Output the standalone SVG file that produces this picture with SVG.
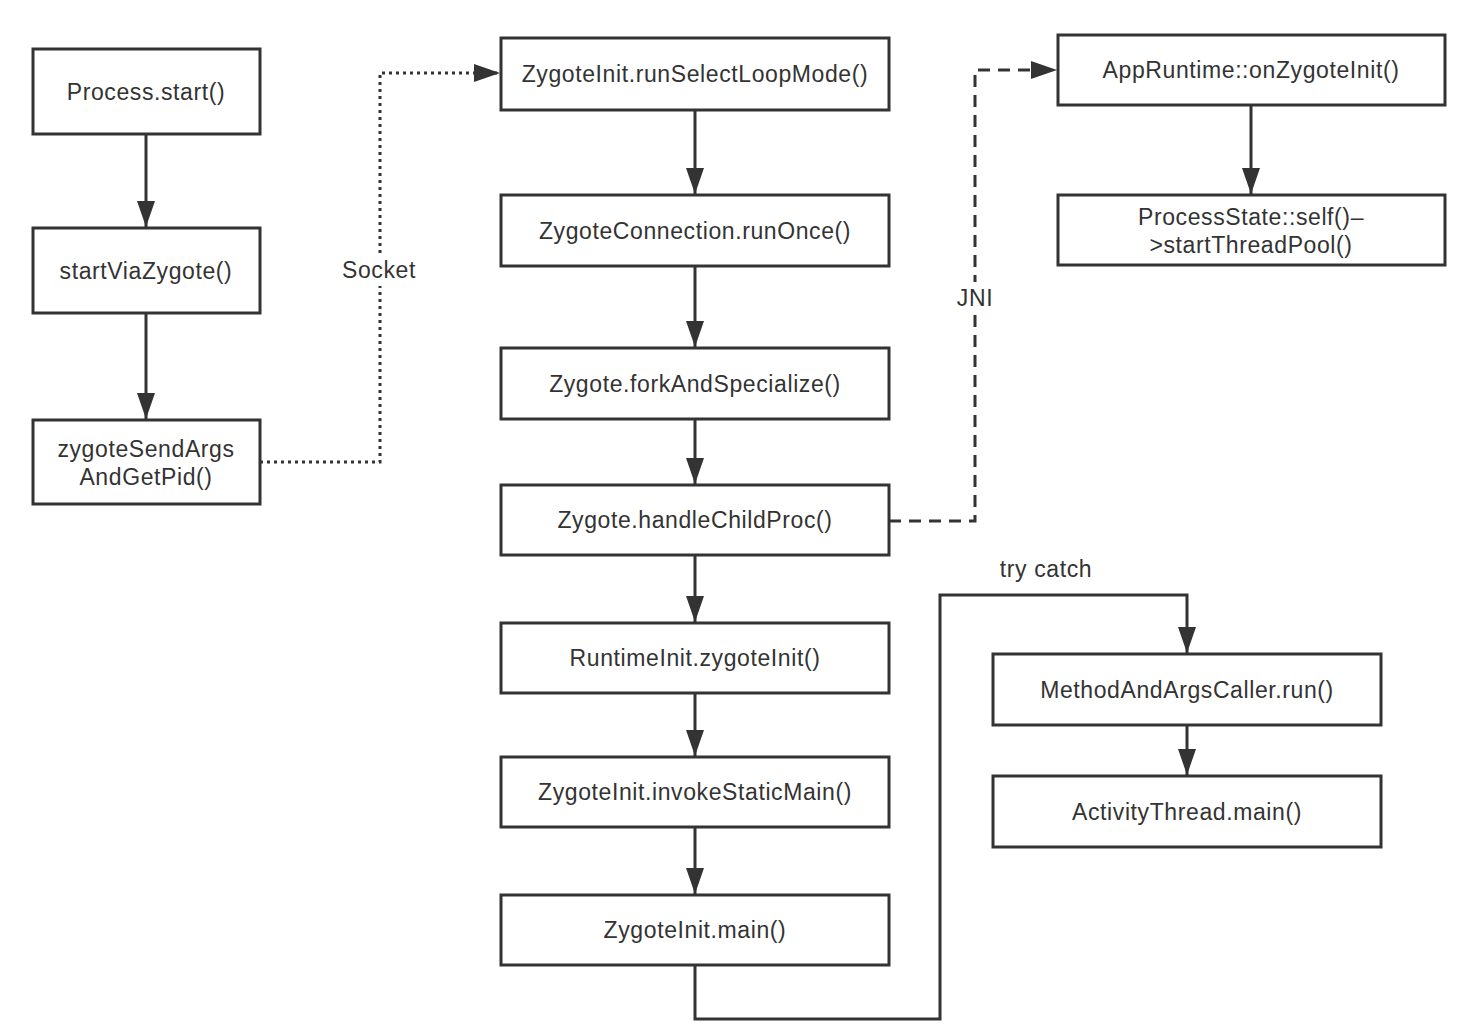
<svg xmlns="http://www.w3.org/2000/svg" width="1466" height="1034" viewBox="0 0 1466 1034">
<defs>
<style>
.box{fill:#fff;stroke:#333;stroke-width:3}
.t{font-family:"Liberation Sans",Arial,sans-serif;font-size:23px;letter-spacing:0.6px;fill:#333;text-anchor:middle}
.c{fill:none;stroke:#333;stroke-width:3}
.dot{stroke-dasharray:3 4}
.dash{stroke-dasharray:12 8}
</style>
<marker id="ah" viewBox="0 0 26 18" refX="26" refY="9" markerWidth="26" markerHeight="18" markerUnits="userSpaceOnUse" orient="auto">
<path d="M0,0 L26,9 L0,18 Z" fill="#333"/>
</marker>
</defs>
<rect width="1466" height="1034" fill="#fff"/>
<g id="connectors">
<line class="c" x1="146" y1="134" x2="146" y2="227" marker-end="url(#ah)"/>
<line class="c" x1="146" y1="313" x2="146" y2="419" marker-end="url(#ah)"/>
<path class="c dot" d="M260,462 H380 V73 H500" marker-end="url(#ah)"/>
<line class="c" x1="695" y1="110" x2="695" y2="194" marker-end="url(#ah)"/>
<line class="c" x1="695" y1="266" x2="695" y2="347" marker-end="url(#ah)"/>
<line class="c" x1="695" y1="419" x2="695" y2="484" marker-end="url(#ah)"/>
<line class="c" x1="695" y1="555" x2="695" y2="622" marker-end="url(#ah)"/>
<line class="c" x1="695" y1="693" x2="695" y2="756" marker-end="url(#ah)"/>
<line class="c" x1="695" y1="827" x2="695" y2="894" marker-end="url(#ah)"/>
<path class="c dash" d="M889,521 H975 V70 H1057" marker-end="url(#ah)"/>
<line class="c" x1="1251" y1="105" x2="1251" y2="194" marker-end="url(#ah)"/>
<path class="c" d="M695,965 V1019 H940 V595 H1187 V653" marker-end="url(#ah)"/>
<line class="c" x1="1187" y1="725" x2="1187" y2="775" marker-end="url(#ah)"/>
<rect x="344" y="254" width="72" height="32" fill="#fff"/>
<text class="t" x="379" y="278">Socket</text>
<rect x="953" y="282" width="44" height="32" fill="#fff"/>
<text class="t" x="975" y="306">JNI</text>
<text class="t" x="1046" y="577">try catch</text>
</g>
<g id="n1"><rect class="box" x="33" y="49" width="227" height="85"/><text class="t" x="146" y="100">Process.start()</text></g>
<g id="n2"><rect class="box" x="33" y="228" width="227" height="85"/><text class="t" x="146" y="279">startViaZygote()</text></g>
<g id="n3"><rect class="box" x="33" y="420" width="227" height="84"/><text class="t" x="146" y="457">zygoteSendArgs</text><text class="t" x="146" y="485">AndGetPid()</text></g>
<g id="n4"><rect class="box" x="501" y="38" width="388" height="72"/><text class="t" x="695" y="82">ZygoteInit.runSelectLoopMode()</text></g>
<g id="n5"><rect class="box" x="501" y="195" width="388" height="71"/><text class="t" x="695" y="239">ZygoteConnection.runOnce()</text></g>
<g id="n6"><rect class="box" x="501" y="348" width="388" height="71"/><text class="t" x="695" y="392">Zygote.forkAndSpecialize()</text></g>
<g id="n7"><rect class="box" x="501" y="485" width="388" height="70"/><text class="t" x="695" y="528">Zygote.handleChildProc()</text></g>
<g id="n8"><rect class="box" x="501" y="623" width="388" height="70"/><text class="t" x="695" y="666">RuntimeInit.zygoteInit()</text></g>
<g id="n9"><rect class="box" x="501" y="757" width="388" height="70"/><text class="t" x="695" y="800">ZygoteInit.invokeStaticMain()</text></g>
<g id="n10"><rect class="box" x="501" y="895" width="388" height="70"/><text class="t" x="695" y="938">ZygoteInit.main()</text></g>
<g id="n11"><rect class="box" x="1058" y="35" width="387" height="70"/><text class="t" x="1251" y="78">AppRuntime::onZygoteInit()</text></g>
<g id="n12"><rect class="box" x="1058" y="195" width="387" height="70"/><text class="t" x="1251" y="225">ProcessState::self()–</text><text class="t" x="1251" y="253">&gt;startThreadPool()</text></g>
<g id="n13"><rect class="box" x="993" y="654" width="388" height="71"/><text class="t" x="1187" y="698">MethodAndArgsCaller.run()</text></g>
<g id="n14"><rect class="box" x="993" y="776" width="388" height="71"/><text class="t" x="1187" y="820">ActivityThread.main()</text></g>
</svg>
